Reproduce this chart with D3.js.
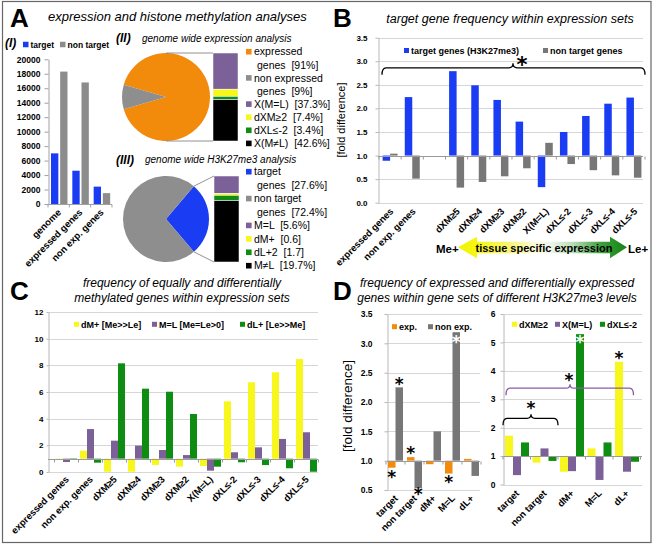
<!DOCTYPE html>
<html><head><meta charset="utf-8">
<script src="https://cdn.jsdelivr.net/npm/d3@7"></script>
<style>body{margin:0;background:#fff}svg{display:block}</style>
</head><body>
<svg id="chart" width="653" height="547"></svg>
<script>
// ---------------- DATA ----------------
// Panel A (I)
const aCats = ["genome", "expressed genes", "non exp. genes"];
const aTarget = [7000, 4600, 2400];
const aNonTarget = [18300, 16800, 1500];
const aTicks = [0, 2000, 4000, 6000, 8000, 10000, 12000, 14000, 16000, 18000, 20000];
// Panel A (II)
const pie2Values = [91, 9];
const pie2Legend = [["expressed", "genes  [91%]"], ["non expressed", "genes  [9%]"]];
const bar2Values = [37.3, 7.4, 3.4, 42.6];
const bar2Legend = ["X(M=L)  [37.3%]", "dXM\u22652  [7.4%]", "dXL\u2264-2  [3.4%]", "X(M\u2260L)  [42.6%]"];
// Panel A (III)
const pie3Values = [27.6, 72.4];
const pie3Legend = [["target", "genes  [27.6%]"], ["non target", "genes  [72.4%]"]];
const bar3Values = [5.6, 0.6, 1.7, 19.7];
const bar3Legend = ["M=L  [5.6%]", "dM+  [0.6]", "dL+2  [1.7]", "M\u2260L  [19.7%]"];
// Panel B
const bCats = ["expressed genes", "non exp. genes", "", "dXM\u22655", "dXM\u22654", "dXM\u22653", "dXM\u22652", "X(M=L)", "dXL\u2264-2", "dXL\u2264-3", "dXL\u2264-4", "dXL\u2264-5"];
const bTarget = [0.89, 2.24, null, 2.79, 2.49, 2.18, 1.72, 0.33, 1.50, 1.84, 2.10, 2.23];
const bNonTarget = [1.04, 0.51, null, 0.32, 0.44, 0.56, 0.73, 1.27, 0.82, 0.69, 0.58, 0.53];
const bTicks = [0, 0.5, 1, 1.5, 2, 2.5, 3, 3.5];
// Panel C
const cCats = ["expressed genes", "non exp. genes", "dXM\u22655", "dXM\u22654", "dXM\u22653", "dXM\u22652", "X(M=L)", "dXL\u2264-2", "dXL\u2264-3", "dXL\u2264-4", "dXL\u2264-5"];
const cDM = [0.97, 1.60, 0.02, 0.02, 0.53, 0.40, 0.45, 5.30, 6.73, 7.48, 8.47];
const cML = [0.75, 3.22, 2.35, 1.98, 1.65, 1.27, 0.10, 1.48, 1.85, 2.48, 2.98];
const cDL = [1.03, 0.70, 8.15, 6.25, 6.02, 4.35, 0.40, 0.73, 0.52, 0.28, 0.02];
const cTicks = [0, 2, 4, 6, 8, 10, 12];
// Panel D
const dCats = ["target", "non target", "dM+", "M=L", "dL+"];
const dExp = [0.88, 1.06, 0.94, 0.78, 1.03];
const dNonExp = [2.25, 0.53, 1.50, 3.19, 0.74];
const dLeftTicks = [0.5, 1, 1.5, 2, 2.5, 3, 3.5];
const dXM2 = [1.72, 0.77, 0.45, 1.27, 4.32];
const dXML = [0.33, 1.27, 0.47, 0.16, 0.45];
const dXL2 = [1.48, 0.83, 5.29, 1.48, 0.80];
const dRightTicks = [0, 1, 2, 3, 4, 5, 6];

// ---------------- STYLE ----------------
const FONT = '"Liberation Sans", Arial, Helvetica, sans-serif';
const BLUE = "#1a3cf2", GRAYA = "#8c8c8c", GRAY = "#777777", ORANGE = "#f28a0c",
      PURPLE = "#7b6198", YELLOW = "#f7f71e", GREEN = "#0f8c12", BLACK = "#000000", PIEGRAY = "#8e8e8e";

const svg = d3.select("#chart");
svg.append("rect").attr("width", 653).attr("height", 547).attr("fill", "#fff");
svg.append("rect").attr("x", 2.5).attr("y", 1.5).attr("width", 648.5).attr("height", 541)
  .attr("fill", "none").attr("stroke", "#666").attr("stroke-width", 1.2);

function txt(g, x, y, s, o = {}) {
  return g.append("text").attr("x", x).attr("y", y).text(s)
    .attr("font-family", o.family || FONT).attr("font-size", o.size || 10)
    .attr("font-weight", o.weight || "normal").attr("font-style", o.style || "normal")
    .attr("text-anchor", o.anchor || "start").attr("fill", o.fill || "#000")
    .style("white-space", "pre");
}
function star(g, cx, cy, fs, color) {
  txt(g, cx, cy + 0.55 * fs, "*", { family: '"DejaVu Sans", sans-serif', size: fs, weight: "bold", anchor: "middle", fill: color || "#000" });
}
function brace(g, x0, x1, xc, y, drop, peak, color) {
  const r = 4, p = d3.path();
  p.moveTo(x0, y + drop); p.quadraticCurveTo(x0, y, x0 + r, y);
  p.lineTo(xc - r, y); p.quadraticCurveTo(xc, y, xc, y - peak);
  p.quadraticCurveTo(xc, y, xc + r, y); p.lineTo(x1 - r, y);
  p.quadraticCurveTo(x1, y, x1, y + drop);
  g.append("path").attr("d", p.toString()).attr("fill", "none").attr("stroke", color).attr("stroke-width", 1.3);
}
function legend(g, items, yc, o) {
  items.forEach(it => {
    g.append("rect").attr("x", it.x).attr("y", yc - o.sq / 2).attr("width", o.sq).attr("height", o.sq).attr("fill", it.color);
    txt(g, it.x + o.sq + o.gap, yc + o.size * 0.36, it.label, { size: o.size, weight: o.weight || "bold" });
  });
}

function barChart(cfg) {
  const g = svg.append("g");
  const x = d3.scaleBand().domain(d3.range(cfg.cats.length)).range(cfg.xRange);
  const xi = d3.scaleBand().domain(d3.range(cfg.series.length)).range(cfg.inner).paddingInner(cfg.innerPad || 0);
  const y = d3.scaleLinear().domain(cfg.yDomain).range(cfg.yRange);
  if (cfg.grid) {
    g.append("g").selectAll("line").data(cfg.ticks).join("line")
      .attr("x1", cfg.gridX[0]).attr("x2", cfg.gridX[1])
      .attr("y1", d => Math.round(y(d)) + 0.5).attr("y2", d => Math.round(y(d)) + 0.5)
      .attr("stroke", "#d6d6d6").attr("stroke-width", 1);
  }
  const axis = d3.axisLeft(y).tickValues(cfg.ticks).tickFormat(cfg.fmt)
    .tickSize(cfg.tickSize).tickSizeOuter(0).tickPadding(cfg.tickPad);
  const ag = g.append("g").attr("transform", `translate(${cfg.gridX[0] + 0.5},0)`).call(axis);
  ag.select(".domain").attr("stroke", cfg.axisColor || "#b8b8b8");
  ag.selectAll(".tick line").attr("stroke", cfg.axisColor || "#b8b8b8");
  ag.selectAll(".tick text").attr("font-family", FONT).attr("font-weight", "bold")
    .attr("font-size", cfg.tickFont).attr("fill", "#000");
  const yb = y(cfg.baseline);
  cfg.series.forEach((s, j) => {
    g.append("g").selectAll("rect")
      .data(s.values.map((v, i) => ({ v, i })).filter(d => d.v != null)).join("rect")
      .attr("x", d => x(d.i) + xi(j)).attr("width", xi.bandwidth())
      .attr("y", d => Math.min(y(d.v), yb)).attr("height", d => Math.abs(y(d.v) - yb))
      .attr("fill", s.color);
  });
  const yl = Math.round(yb) + 0.5;
  g.append("line").attr("x1", cfg.gridX[0]).attr("x2", cfg.gridX[1]).attr("y1", yl).attr("y2", yl)
    .attr("stroke", cfg.baseColor || "#9a9a9a");
  g.append("g").selectAll("line").data(d3.range(cfg.cats.length + 1)).join("line")
    .attr("x1", i => cfg.xRange[0] + i * x.step()).attr("x2", i => cfg.xRange[0] + i * x.step())
    .attr("y1", yl).attr("y2", yl + 3).attr("stroke", cfg.baseColor || "#9a9a9a");
  g.append("g").selectAll("text").data(cfg.cats).join("text")
    .attr("transform", (d, i) => `translate(${x(i) + x.bandwidth() / 2 + cfg.labDx},${cfg.labY}) rotate(-45)`)
    .attr("text-anchor", "end").attr("font-family", FONT).attr("font-weight", "bold")
    .attr("font-size", cfg.labFont).text(d => d);
  return { g, x, xi, y };
}

function pieOfBar(cfg) {
  const g = svg.append("g");
  const a0 = cfg.start * Math.PI / 180;
  const pie = d3.pie().sort(null).value(d => d).startAngle(a0).endAngle(a0 + 2 * Math.PI);
  const arc = d3.arc().innerRadius(0).outerRadius(cfg.r);
  g.append("g").attr("transform", `translate(${cfg.cx},${cfg.cy})`).selectAll("path")
    .data(pie(cfg.values)).join("path").attr("d", arc).attr("fill", (d, i) => cfg.colors[i]);
  const total = d3.sum(cfg.barValues);
  const ys = d3.scaleLinear().domain([0, total]).range([cfg.cy - cfg.r, cfg.cy + cfg.r]);
  const cum = [0, ...d3.cumsum(cfg.barValues)];
  g.append("g").selectAll("rect").data(cfg.barValues).join("rect")
    .attr("x", cfg.barX).attr("width", cfg.barW)
    .attr("y", (d, i) => ys(cum[i])).attr("height", d => ys(d) - ys(0))
    .attr("fill", (d, i) => cfg.barColors[i]).attr("stroke", "#fff").attr("stroke-width", 0.5);
  cfg.connAngles.forEach((ang, k) => {
    const r = ang * Math.PI / 180;
    g.append("line").attr("x1", cfg.cx + Math.sin(r) * cfg.r).attr("y1", cfg.cy - Math.cos(r) * cfg.r)
      .attr("x2", cfg.barX).attr("y2", k === 0 ? ys(0) : ys(total))
      .attr("stroke", "#777").attr("stroke-width", 0.8);
  });
  // legend
  let row = 0;
  const rowY = i => cfg.legY0 + cfg.legStep * i;
  cfg.pieLegend.forEach((lines, i) => {
    g.append("rect").attr("x", cfg.legX).attr("y", rowY(row) - 2.8).attr("width", 5.6).attr("height", 5.6).attr("fill", cfg.colors[i]);
    txt(g, cfg.legX + 8, rowY(row) + 3.7, lines[0], { size: 10.5 }); row++;
    txt(g, cfg.legX + 11, rowY(row) + 3.7, lines[1], { size: 10.5 }); row++;
  });
  cfg.barLegend.forEach((l, i) => {
    g.append("rect").attr("x", cfg.legX).attr("y", rowY(row) - 2.8).attr("width", 5.6).attr("height", 5.6).attr("fill", cfg.barColors[i]);
    txt(g, cfg.legX + 8, rowY(row) + 3.7, l, { size: 10.5 }); row++;
  });
  return g;
}

// ---------------- PANEL LETTERS & TITLES ----------------
const T = svg.append("g");
[["A", 10, 27], ["B", 333, 27], ["C", 10, 300], ["D", 333, 300]].forEach(d => txt(T, d[1], d[2], d[0], { size: 26, weight: "bold" }));
txt(T, 48, 21, "expression and histone methylation analyses", { size: 13, style: "italic" });
txt(T, 510, 23, "target gene frequency within expression sets", { size: 12.5, style: "italic", anchor: "middle" });
txt(T, 182, 287, "frequency of equally and differentially", { size: 12, style: "italic", anchor: "middle" });
txt(T, 182, 302, "methylated genes within expression sets", { size: 12, style: "italic", anchor: "middle" });
txt(T, 497, 287, "frequency of expressed and differentially expressed", { size: 12, style: "italic", anchor: "middle" });
txt(T, 497, 302, "genes within gene sets of different H3K27me3 levels", { size: 12, style: "italic", anchor: "middle" });

// ---------------- PANEL A (I) ----------------
txt(T, 5, 47, "(I)", { size: 12, weight: "bold", style: "italic" });
legend(T, [{ x: 23, color: BLUE, label: "target" }, { x: 60, color: GRAYA, label: "non target" }], 44.5, { sq: 5.5, gap: 2, size: 8.5 });
barChart({
  cats: aCats, series: [{ values: aTarget, color: BLUE }, { values: aNonTarget, color: GRAYA }],
  xRange: [48, 112], inner: [3, 19.5], innerPad: 0.2, yDomain: [0, 20000], yRange: [204, 59.3],
  ticks: aTicks, fmt: d3.format("d"), tickSize: 4, tickPad: 4, tickFont: 8.5, baseline: 0,
  gridX: [48, 112], grid: false, axisColor: "#a0a0a0", baseColor: "#a0a0a0",
  labDx: 3, labY: 213, labFont: 9.5
});

// ---------------- PANEL A (II) / (III) ----------------
txt(T, 116, 42, "(II)", { size: 12, weight: "bold", style: "italic" });
txt(T, 142, 41.5, "genome wide expression analysis", { size: 10, style: "italic" });
pieOfBar({
  cx: 166, cy: 97, r: 44, start: -73.8, values: pie2Values, colors: [ORANGE, PIEGRAY],
  barValues: bar2Values, barColors: [PURPLE, YELLOW, GREEN, BLACK], barX: 213, barW: 25,
  connAngles: [0, 180], pieLegend: pie2Legend, barLegend: bar2Legend,
  legX: 246, legY0: 51.7, legStep: 13.1
});
txt(T, 116, 164, "(III)", { size: 12, weight: "bold", style: "italic" });
txt(T, 145, 163.3, "genome wide H3K27me3 analysis", { size: 10, style: "italic" });
pieOfBar({
  cx: 166, cy: 219, r: 43, start: 40.3, values: pie3Values, colors: [BLUE, PIEGRAY],
  barValues: bar3Values, barColors: [PURPLE, YELLOW, GREEN, BLACK], barX: 214, barW: 25,
  connAngles: [40.3, 139.7], pieLegend: pie3Legend, barLegend: bar3Legend,
  legX: 246, legY0: 171.7, legStep: 13.43
});

// ---------------- PANEL B ----------------
const B = barChart({
  cats: bCats, series: [{ values: bTarget, color: BLUE }, { values: bNonTarget, color: GRAY }],
  xRange: [379, 645], inner: [3.6, 18.6], yDomain: [0, 3.5], yRange: [202.7, 37.7],
  ticks: bTicks, fmt: d3.format(".1f"), tickSize: 3, tickPad: 8, tickFont: 8, baseline: 1,
  gridX: [378, 643], grid: true, labDx: 4, labY: 212, labFont: 9.5
});
legend(B.g, [{ x: 404, color: BLUE, label: "target genes (H3K27me3)" }, { x: 543, color: GRAY, label: "non target genes" }], 50.5, { sq: 5, gap: 2, size: 9 });
txt(B.g, 0, 0, "[fold difference]", { size: 11, anchor: "middle" }).attr("transform", "translate(345,120) rotate(-90)").attr("x", null).attr("y", null);
brace(B.g, B.x(0) + 3, B.x(11) + B.x.bandwidth(), 513, B.y(2.86), 7, 4.5, "#000");
star(B.g, 522, 60, 21, "#000");
// arrow
const defs = svg.append("defs");
const grad = defs.append("linearGradient").attr("id", "arrowGrad").attr("x1", "0%").attr("x2", "100%");
[[0, "#f2f200"], [0.1, "#f6f610"], [0.3, "#f7f570"], [0.45, "#fbfbd8"], [0.55, "#eef6ea"], [0.68, "#b9dcb5"], [0.85, "#3c9e3c"], [1, "#138513"]]
  .forEach(s => grad.append("stop").attr("offset", s[0]).attr("stop-color", s[1]));
const arrowPts = [[458, 247.3], [477, 236.7], [477, 241.7], [610, 241.7], [610, 236.7], [627, 247.3], [610, 258.3], [610, 253.3], [477, 253.3], [477, 258.3]];
B.g.append("path").attr("d", d3.line()(arrowPts) + "Z").attr("fill", "url(#arrowGrad)");
txt(B.g, 436, 252.5, "Me+", { size: 11.5, weight: "bold" });
txt(B.g, 628, 252.5, "Le+", { size: 11.5, weight: "bold" });
txt(B.g, 544, 251.5, "tissue specific expression", { size: 11, weight: "bold", anchor: "middle" });

// ---------------- PANEL C ----------------
const C = barChart({
  cats: cCats, series: [{ values: cDM, color: YELLOW }, { values: cML, color: PURPLE }, { values: cDL, color: GREEN }],
  xRange: [54.5, 318.5], inner: [1.5, 22.5], yDomain: [0, 12], yRange: [472, 312],
  ticks: cTicks, fmt: d3.format("d"), tickSize: 2, tickPad: 3, tickFont: 8, baseline: 1,
  gridX: [48, 318], grid: true, labDx: 3, labY: 480, labFont: 9.5
});
legend(C.g, [{ x: 74, color: YELLOW, label: "dM+ [Me>>Le]" }, { x: 152, color: PURPLE, label: "M=L [Me=Le>0]" }, { x: 240, color: GREEN, label: "dL+ [Le>>Me]" }], 324.3, { sq: 5, gap: 2, size: 9 });

// ---------------- PANEL D ----------------
const DL = barChart({
  cats: dCats, series: [{ values: dExp, color: ORANGE }, { values: dNonExp, color: GRAY }],
  xRange: [386, 481], inner: [2, 17], yDomain: [0.5, 3.5], yRange: [490, 314],
  ticks: dLeftTicks, fmt: d3.format(".1f"), tickSize: 3, tickPad: 12, tickFont: 8.5, baseline: 1,
  gridX: [387, 480], grid: true, labDx: 3, labY: 499, labFont: 9.5
});
legend(DL.g, [{ x: 392, color: ORANGE, label: "exp." }, { x: 428, color: GRAY, label: "non exp." }], 326.7, { sq: 5, gap: 2, size: 9 });
txt(DL.g, 0, 0, "[fold difference]", { size: 13.5, anchor: "middle" }).attr("transform", "translate(352,406) rotate(-90)").attr("x", null).attr("y", null);
const DR = barChart({
  cats: dCats, series: [{ values: dXM2, color: YELLOW }, { values: dXML, color: PURPLE }, { values: dXL2, color: GREEN }],
  xRange: [503, 640.5], inner: [2, 26], yDomain: [0, 6], yRange: [484.5, 314],
  ticks: dRightTicks, fmt: d3.format("d"), tickSize: 3, tickPad: 5, tickFont: 8.5, baseline: 1,
  gridX: [503, 642], grid: true, labDx: 3, labY: 494, labFont: 9.5
});
legend(DR.g, [{ x: 512, color: YELLOW, label: "dXM\u22652" }, { x: 555, color: PURPLE, label: "X(M=L)" }, { x: 600, color: GREEN, label: "dXL\u2264-2" }], 324.3, { sq: 5, gap: 2, size: 9 });

// significance marks (category index, series index, vertical offset from bar end, colour)
const dLeftStars = [[0, 1, -7, "#000"], [0, 0, 5.6, "#000"], [1, 0, -7, "#000"], [1, 1, 2.4, "#000"], [3, 0, 5, "#000"], [3, 1, 6.6, "#fff"]];
const dLeftVals = [dExp, dNonExp];
dLeftStars.forEach(s => {
  const cx = DL.x(s[0]) + DL.xi(s[1]) + DL.xi.bandwidth() / 2;
  star(DL.g, cx, DL.y(dLeftVals[s[1]][s[0]]) + s[2], 17, s[3]);
});
const dRightStars = [[2, 2, 4, "#fff"], [4, 0, -6.7, "#000"]];
const dRightVals = [dXM2, dXML, dXL2];
dRightStars.forEach(s => {
  const cx = DR.x(s[0]) + DR.xi(s[1]) + DR.xi.bandwidth() / 2;
  star(DR.g, cx, DR.y(dRightVals[s[1]][s[0]]) + s[2], 17, s[3]);
});
brace(DR.g, DR.x(0) + 3, DR.x(4) + DR.x.bandwidth() - 7, 570, DR.y(3.39), 7, 4, "#8a5aa8");
star(DR.g, 569, 377, 17, "#000");
brace(DR.g, DR.x(0), DR.x(1) + DR.x.bandwidth(), 531, DR.y(2.33), 7, 4, "#000");
star(DR.g, 531, 405, 17, "#000");
</script>
</body></html>
